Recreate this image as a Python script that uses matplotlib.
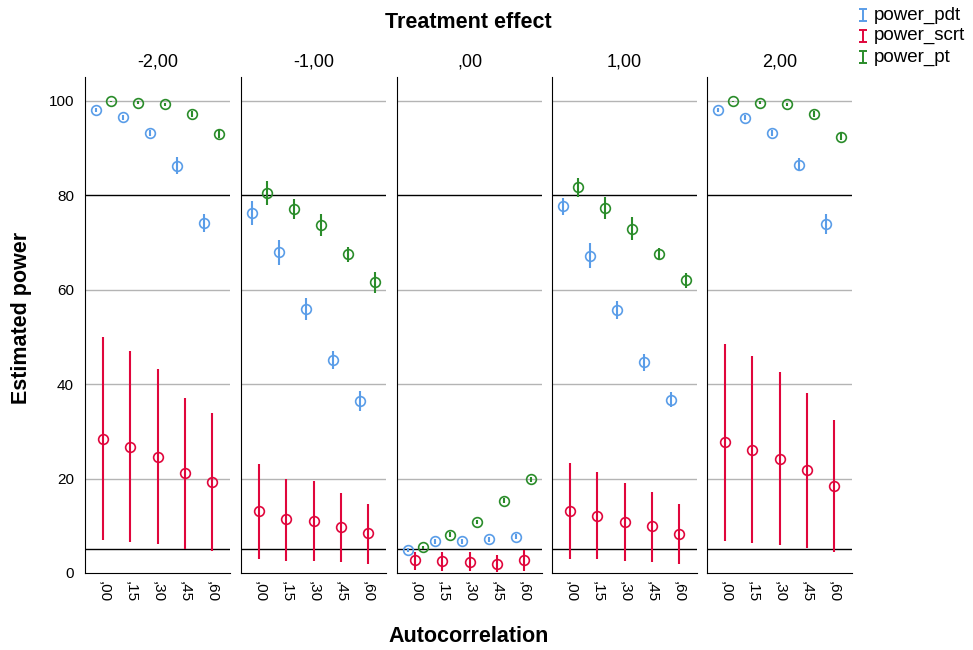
import matplotlib
matplotlib.use("Agg")
import matplotlib.pyplot as plt
from matplotlib.lines import Line2D
from matplotlib.path import Path

plt.rcParams["font.family"] = ["Liberation Sans", "DejaVu Sans"]

# Data
effects = ["-2,00", "-1,00", ",00", "1,00", "2,00"]
autocorr = [",00", ",15", ",30", ",45", ",60"]

pdt_mean = [[98.0, 96.5, 93.2, 86.2, 74.0],
            [76.2, 67.9, 55.9, 45.1, 36.4],
            [4.9, 6.7, 6.7, 7.1, 7.7],
            [77.6, 67.2, 55.7, 44.6, 36.7],
            [98.0, 96.4, 93.2, 86.4, 73.9]]
pdt_lo = [[97.5, 96.0, 92.6, 84.4, 72.1],
          [73.6, 65.3, 53.5, 43.1, 34.2],
          [4.5, 6.2, 6.2, 6.6, 7.2],
          [75.8, 64.5, 53.8, 42.8, 35.1],
          [97.5, 95.9, 92.6, 85.0, 71.8]]
pdt_hi = [[98.5, 97.0, 93.8, 88.0, 75.9],
          [78.8, 70.5, 58.3, 47.1, 38.6],
          [5.3, 7.2, 7.2, 7.6, 8.2],
          [79.4, 69.9, 57.6, 46.4, 38.3],
          [98.5, 96.9, 93.8, 87.8, 76.0]]

scrt_mean = [[28.4, 26.7, 24.6, 21.1, 19.2],
             [13.1, 11.4, 11.0, 9.7, 8.4],
             [2.7, 2.5, 2.4, 2.0, 2.8],
             [13.2, 12.1, 10.8, 9.9, 8.3],
             [27.7, 26.1, 24.2, 21.8, 18.5]]
scrt_lo = [[7.0, 6.6, 6.1, 5.1, 4.7],
           [3.0, 2.6, 2.6, 2.3, 2.0],
           [0.6, 0.5, 0.4, 0.3, 0.5],
           [3.0, 2.9, 2.5, 2.3, 2.0],
           [6.8, 6.4, 5.9, 5.2, 4.5]]
scrt_hi = [[49.9, 46.9, 43.2, 37.0, 33.8],
           [23.1, 20.0, 19.4, 17.0, 14.6],
           [4.5, 4.5, 4.4, 3.8, 4.9],
           [23.2, 21.3, 19.1, 17.2, 14.7],
           [48.5, 46.0, 42.6, 38.2, 32.4]]

pt_mean = [[100.0, 99.6, 99.2, 97.2, 92.9],
           [80.4, 77.1, 73.7, 67.5, 61.5],
           [5.4, 8.1, 10.8, 15.3, 19.8],
           [81.7, 77.3, 72.9, 67.5, 62.0],
           [99.9, 99.6, 99.2, 97.2, 92.4]]
pt_lo = [[99.8, 99.3, 98.8, 96.6, 92.1],
         [77.9, 75.0, 71.3, 65.9, 59.3],
         [5.0, 7.6, 10.3, 14.8, 19.3],
         [79.7, 75.0, 70.4, 66.3, 60.4],
         [99.7, 99.3, 98.8, 96.6, 91.6]]
pt_hi = [[100.0, 99.9, 99.6, 97.8, 93.7],
         [82.9, 79.2, 76.1, 69.1, 63.7],
         [5.8, 8.6, 11.3, 15.8, 20.3],
         [83.7, 79.6, 75.4, 68.7, 63.6],
         [100.0, 99.9, 99.6, 97.8, 93.2]]

series = [("power_pdt", pdt_mean, pdt_lo, pdt_hi, "#5a9de8", -0.28),
          ("power_scrt", scrt_mean, scrt_lo, scrt_hi, "#e0063c", 0.0),
          ("power_pt", pt_mean, pt_lo, pt_hi, "#2a8c2a", 0.28)]

W, H = 973, 650
fig = plt.figure(figsize=(W / 100, H / 100), dpi=100)

lefts = [85, 241, 397, 552, 707]
pw = 145
top, bottom = 77, 573

for i, eff in enumerate(effects):
    ax = fig.add_axes([lefts[i] / W, (H - bottom) / H, pw / W, (bottom - top) / H])
    x = list(range(len(autocorr)))
    for name, m, lo, hi, col, off in series:
        xs = [v + off for v in x]
        err = [[m[i][k] - lo[i][k] for k in x], [hi[i][k] - m[i][k] for k in x]]
        ax.errorbar(xs, m[i], yerr=err, fmt="o", mfc="none", mec=col, ecolor=col,
                    ms=7, mew=1.2, elinewidth=1.5, capsize=0, zorder=3)
    for g in [20, 40, 60, 100]:
        ax.axhline(g, color="#b4b4b4", lw=1, zorder=1)
    for r in [5, 80]:
        ax.axhline(r, color="black", lw=1, zorder=2)
    ax.set_xlim(-0.68, 4.68)
    ax.set_ylim(0, 105)
    ax.set_xticks(x)
    ax.set_xticklabels(autocorr, rotation=270, fontsize=11)
    ax.tick_params(axis="x", length=0, pad=6)
    ax.set_yticks([0, 20, 40, 60, 80, 100])
    if i == 0:
        ax.tick_params(axis="y", length=0, labelsize=11, pad=8)
    else:
        ax.tick_params(axis="y", length=0, labelleft=False)
    for s in ["top", "right"]:
        ax.spines[s].set_visible(False)
    ax.spines["left"].set_color("black")
    ax.spines["bottom"].set_color("black")
    fig.text((lefts[i] + pw / 2) / W, 1 - 62 / H, eff, ha="center", va="center",
             fontsize=13)

mid = (lefts[0] + lefts[-1] + pw) / 2 / W
fig.text(mid, 1 - 22 / H, "Treatment effect", ha="center", va="center",
         fontsize=15.5, fontweight="bold")
fig.text(mid, 1 - 637 / H, "Autocorrelation", ha="center", va="center",
         fontsize=15.5, fontweight="bold")
fig.text(22 / W, 1 - 318 / H, "Estimated power", ha="center", va="center",
         rotation=90, fontsize=15.5, fontweight="bold")

# legend with I-beam symbols
ibeam = Path([(-0.35, 0.5), (0.35, 0.5), (0, 0.5), (0, -0.5), (-0.35, -0.5), (0.35, -0.5)],
             [Path.MOVETO, Path.LINETO, Path.MOVETO, Path.LINETO, Path.MOVETO, Path.LINETO])
rows = [15, 36, 57]
for (name, _, _, _, col, _), ry in zip(series, rows):
    fig.add_artist(Line2D([863 / W], [1 - ry / H], transform=fig.transFigure,
                          marker=ibeam, markersize=8, mew=1.4, color=col,
                          linestyle="none"))
    fig.text(874 / W, 1 - ry / H, name, ha="left", va="center", fontsize=13.5)

fig.savefig("out.png", dpi=100)
